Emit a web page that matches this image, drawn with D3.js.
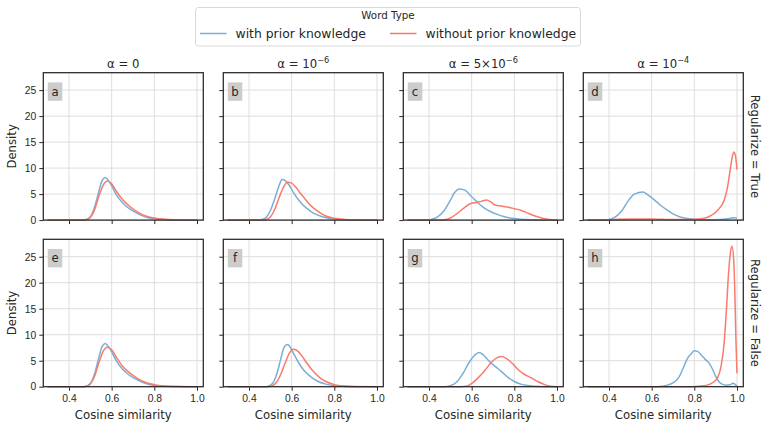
<!DOCTYPE html>
<html lang="en">
<head>
<meta charset="UTF-8">
<title>Cosine similarity densities</title>
<script src="https://d3js.org/d3.v7.min.js"></script>
<style>
html, body { margin: 0; padding: 0; background: white; }
body { font-family: 'DejaVu Sans', sans-serif; }
svg text { fill: #262626; }
.grid line { stroke: #dedede; stroke-width: 1; }
.axis path { display: none; }
.axis line { stroke: #262626; stroke-width: 1; }
.axis text { font-size: 10.3px; fill: #262626; }
</style>
</head>
<body>
<div id="chart"></div>
<script>

// --------------------------------------
// Data
// --------------------------------------

const seriesNames = ["with prior knowledge", "without prior knowledge"];
const seriesColors = ["#7aaed6", "#fa7b6b"];
const colTitles = [["0", null], ["10", "\u22126"], ["5\u00d710", "\u22126"], ["10", "\u22124"]];
const rowTitles = ["Regularize = True", "Regularize = False"];
const panelLetters = ["a", "b", "c", "d", "e", "f", "g", "h"];
const xTicks = [0.4, 0.6, 0.8, 1.0];
const yTicks = [0, 5, 10, 15, 20, 25];

// [cosine similarity, density]
const withA = [[0.30,0],[0.45,0],[0.48,0.1],[0.50,0.6],[0.52,2.5],[0.54,5.5],[0.555,7.6],[0.57,8.2],[0.585,7.6],[0.60,6.6],[0.62,5.0],[0.65,3.4],[0.68,2.3],[0.72,1.3],[0.76,0.6],[0.80,0.25],[0.85,0.08],[0.90,0.02],[1.0,0]];
const withoutA = [[0.30,0],[0.46,0],[0.48,0.05],[0.50,0.5],[0.52,2.0],[0.54,4.6],[0.56,6.7],[0.58,7.5],[0.60,7.0],[0.62,5.7],[0.65,4.0],[0.68,2.8],[0.72,1.6],[0.76,0.8],[0.80,0.4],[0.85,0.15],[0.90,0.05],[0.95,0.01],[1.0,0]];

const withB = [[0.30,0],[0.44,0],[0.46,0.1],[0.48,0.5],[0.50,1.8],[0.52,4.0],[0.54,6.5],[0.555,7.8],[0.57,7.6],[0.59,6.6],[0.61,5.2],[0.64,3.5],[0.67,2.3],[0.70,1.4],[0.74,0.7],[0.78,0.3],[0.82,0.1],[0.90,0.02],[1.0,0]];
const withoutB = [[0.30,0],[0.46,0],[0.48,0.1],[0.50,0.6],[0.52,2.0],[0.54,4.2],[0.56,6.2],[0.58,7.3],[0.60,7.1],[0.62,6.3],[0.64,5.2],[0.66,4.2],[0.68,3.2],[0.70,2.4],[0.73,1.5],[0.76,0.8],[0.80,0.35],[0.85,0.12],[0.90,0.03],[1.0,0]];

const withC = [[0.30,0],[0.38,0],[0.41,0.1],[0.44,0.6],[0.47,1.8],[0.50,3.8],[0.52,5.3],[0.545,6.0],[0.57,5.7],[0.60,4.5],[0.63,3.3],[0.66,2.3],[0.69,1.6],[0.72,1.1],[0.75,0.7],[0.79,0.35],[0.83,0.15],[0.88,0.05],[0.95,0.01],[1.0,0]];
const withoutC = [[0.30,0],[0.46,0],[0.48,0.1],[0.50,0.4],[0.53,1.2],[0.56,2.2],[0.59,3.1],[0.62,3.4],[0.645,3.6],[0.67,3.85],[0.69,3.5],[0.71,2.9],[0.74,2.7],[0.77,2.5],[0.80,2.2],[0.83,1.9],[0.86,1.4],[0.89,0.9],[0.92,0.5],[0.95,0.2],[0.98,0.05],[1.0,0]];

const withD = [[0.30,0],[0.36,0],[0.40,0.1],[0.43,0.6],[0.46,1.8],[0.49,3.7],[0.515,4.9],[0.54,5.3],[0.56,5.4],[0.58,4.9],[0.61,4.0],[0.64,2.9],[0.67,2.0],[0.70,1.2],[0.73,0.65],[0.76,0.35],[0.80,0.15],[0.85,0.08],[0.90,0.07],[0.94,0.15],[0.97,0.35],[0.99,0.45],[1.0,0.35]];
const withoutD = [[0.30,0],[0.35,0],[0.40,0.05],[0.45,0.15],[0.50,0.2],[0.55,0.2],[0.60,0.2],[0.65,0.15],[0.70,0.1],[0.75,0.1],[0.80,0.15],[0.84,0.3],[0.87,0.7],[0.90,1.5],[0.92,2.4],[0.94,3.8],[0.955,6.2],[0.965,8.8],[0.975,11.5],[0.985,13.1],[0.992,12.6],[0.997,11.0],[1.0,9.7]];

const withE = [[0.30,0],[0.45,0],[0.48,0.1],[0.50,0.6],[0.52,2.5],[0.54,5.6],[0.555,7.7],[0.57,8.3],[0.585,7.7],[0.60,6.7],[0.62,5.1],[0.65,3.4],[0.68,2.3],[0.72,1.3],[0.76,0.6],[0.80,0.25],[0.85,0.08],[0.90,0.02],[1.0,0]];
const withoutE = [[0.30,0],[0.46,0],[0.48,0.05],[0.50,0.5],[0.52,2.0],[0.54,4.6],[0.56,6.8],[0.58,7.6],[0.60,7.1],[0.62,5.8],[0.65,4.0],[0.68,2.8],[0.72,1.6],[0.76,0.8],[0.80,0.4],[0.85,0.15],[0.90,0.05],[0.95,0.01],[1.0,0]];

const withF = [[0.30,0],[0.47,0],[0.49,0.1],[0.51,0.6],[0.53,2.4],[0.55,5.5],[0.565,7.6],[0.58,8.1],[0.595,7.5],[0.61,6.3],[0.63,4.8],[0.66,3.0],[0.69,1.9],[0.72,1.1],[0.76,0.5],[0.80,0.2],[0.85,0.06],[0.90,0.01],[1.0,0]];
const withoutF = [[0.30,0],[0.49,0],[0.51,0.2],[0.53,0.9],[0.55,2.5],[0.57,4.6],[0.59,6.5],[0.61,7.2],[0.63,6.8],[0.65,5.8],[0.67,4.6],[0.70,3.0],[0.73,1.8],[0.76,1.0],[0.80,0.4],[0.85,0.12],[0.90,0.03],[1.0,0]];

const withG = [[0.30,0],[0.47,0],[0.50,0.2],[0.53,0.9],[0.56,2.6],[0.59,4.8],[0.615,6.1],[0.635,6.6],[0.655,6.1],[0.68,5.0],[0.71,3.9],[0.74,2.9],[0.77,1.8],[0.80,1.0],[0.83,0.5],[0.87,0.2],[0.92,0.05],[1.0,0]];
const withoutG = [[0.30,0],[0.55,0],[0.58,0.15],[0.60,0.6],[0.63,1.7],[0.66,3.0],[0.69,4.6],[0.72,5.6],[0.74,5.8],[0.76,5.5],[0.79,4.5],[0.82,3.2],[0.85,2.3],[0.88,1.7],[0.91,1.0],[0.94,0.45],[0.97,0.1],[1.0,0]];

const withH = [[0.30,0],[0.60,0],[0.65,0.1],[0.68,0.4],[0.71,1.0],[0.73,2.0],[0.75,3.8],[0.77,5.6],[0.785,6.3],[0.80,6.9],[0.815,6.8],[0.83,6.2],[0.85,5.3],[0.87,4.5],[0.885,3.4],[0.90,2.0],[0.915,1.0],[0.93,0.5],[0.95,0.3],[0.97,0.4],[0.98,0.65],[0.99,0.5],[1.0,0.1]];
const withoutH = [[0.30,0],[0.78,0],[0.82,0.1],[0.86,0.3],[0.89,0.9],[0.91,1.8],[0.925,3.8],[0.94,8.5],[0.95,14.5],[0.96,21.5],[0.97,26.0],[0.977,27.0],[0.985,24.0],[0.99,18.0],[0.995,9.0],[1.0,2.6]];

const panelSeries = [
  [withA, withoutA], [withB, withoutB], [withC, withoutC], [withD, withoutD],
  [withE, withoutE], [withF, withoutF], [withG, withoutG], [withH, withoutH]
];

// --------------------------------------
// Size and layout
// --------------------------------------

const totalWidth = 768, totalHeight = 433;
const panelLeft = 43.3, panelStep = 180, panelWidth = 160;
const rowTop = [72.7, 239.3], panelHeight = 147.4;

const svg = d3.select("#chart").append("svg")
  .attr("width", totalWidth)
  .attr("height", totalHeight);

// --------------------------------------
// Legend
// --------------------------------------

const legend = svg.append("g");
legend.append("rect")
  .attr("x", 195.5).attr("y", 7.5)
  .attr("width", 385).attr("height", 38.5)
  .attr("rx", 3)
  .attr("fill", "white")
  .attr("stroke", "#d9d9d9");

legend.append("text")
  .attr("x", 388).attr("y", 19)
  .attr("text-anchor", "middle")
  .style("font-size", "10.3px")
  .text("Word Type");

const legendX = [200, 390];
seriesNames.forEach((name, i) => {
  legend.append("line")
    .attr("x1", legendX[i]).attr("x2", legendX[i] + 26.5)
    .attr("y1", 33.5).attr("y2", 33.5)
    .attr("stroke", seriesColors[i])
    .attr("stroke-width", 1.5);
  legend.append("text")
    .attr("x", legendX[i] + 35.5).attr("y", 38)
    .style("font-size", "12.4px")
    .text(name);
});

// --------------------------------------
// Panels
// --------------------------------------

const line = d3.line().curve(d3.curveMonotoneX);

panelSeries.forEach((series, p) => {
  const col = p % 4, row = Math.floor(p / 4);
  const x0 = panelLeft + col * panelStep, y0 = rowTop[row];

  const x = d3.scaleLinear().domain([0.2795, 1.0296]).range([x0, x0 + panelWidth]);
  const y = d3.scaleLinear().domain([0, 28.35]).range([y0 + panelHeight, y0]);

  const g = svg.append("g");

  // grid
  const grid = g.append("g").attr("class", "grid");
  grid.selectAll(".vx").data(xTicks).join("line")
    .attr("x1", d => x(d)).attr("x2", d => x(d))
    .attr("y1", y0).attr("y2", y0 + panelHeight);
  grid.selectAll(".hy").data(yTicks).join("line")
    .attr("x1", x0).attr("x2", x0 + panelWidth)
    .attr("y1", d => y(d)).attr("y2", d => y(d));

  // axes
  g.append("g").attr("class", "axis")
    .attr("transform", `translate(0,${y0 + panelHeight})`)
    .call(d3.axisBottom(x).tickValues(xTicks).tickSize(4).tickPadding(4)
      .tickFormat(row === 1 ? d3.format(".1f") : ""));
  g.append("g").attr("class", "axis")
    .attr("transform", `translate(${x0},0)`)
    .call(d3.axisLeft(y).tickValues(yTicks).tickSize(4).tickPadding(3)
      .tickFormat(col === 0 ? d3.format("d") : ""));

  // curves
  series.forEach((pts, i) => {
    g.append("path")
      .attr("d", line(pts.map(d => [x(d[0]), y(d[1])])))
      .attr("fill", "none")
      .attr("stroke", seriesColors[i])
      .attr("stroke-width", 1.5);
  });

  // frame
  g.append("rect")
    .attr("x", x0).attr("y", y0)
    .attr("width", panelWidth).attr("height", panelHeight)
    .attr("fill", "none")
    .attr("stroke", "#262626")
    .attr("stroke-width", 1.25);

  // letter badge
  g.append("rect")
    .attr("x", x0 + 4.5).attr("y", y0 + 9.7)
    .attr("width", 14.5).attr("height", 18.4)
    .attr("fill", "#cccccc");
  g.append("text")
    .attr("x", x0 + 11.7).attr("y", y0 + 23)
    .attr("text-anchor", "middle")
    .style("font-size", "11.7px")
    .text(panelLetters[p]);

  // column titles
  if (row === 0) {
    const t = g.append("text")
      .attr("x", x0 + panelWidth / 2).attr("y", y0 - 4.5)
      .attr("text-anchor", "middle")
      .style("font-size", "11.7px");
    t.append("tspan").text("\u03b1 = " + colTitles[col][0]);
    if (colTitles[col][1]) {
      t.append("tspan").attr("dy", -5).style("font-size", "8.2px").text(colTitles[col][1]);
    }
  }

  // row titles
  if (col === 3) {
    g.append("text")
      .attr("transform", `translate(${x0 + panelWidth + 8},${y0 + panelHeight / 2}) rotate(90)`)
      .attr("text-anchor", "middle")
      .style("font-size", "11.7px")
      .text(rowTitles[row]);
  }

  // axis labels
  if (row === 1) {
    g.append("text")
      .attr("x", x0 + panelWidth / 2).attr("y", y0 + panelHeight + 32)
      .attr("text-anchor", "middle")
      .style("font-size", "11.7px")
      .text("Cosine similarity");
  }
  if (col === 0) {
    g.append("text")
      .attr("transform", `translate(16,${y0 + panelHeight / 2}) rotate(-90)`)
      .attr("text-anchor", "middle")
      .style("font-size", "11.7px")
      .text("Density");
  }
});

</script>
</body>
</html>
